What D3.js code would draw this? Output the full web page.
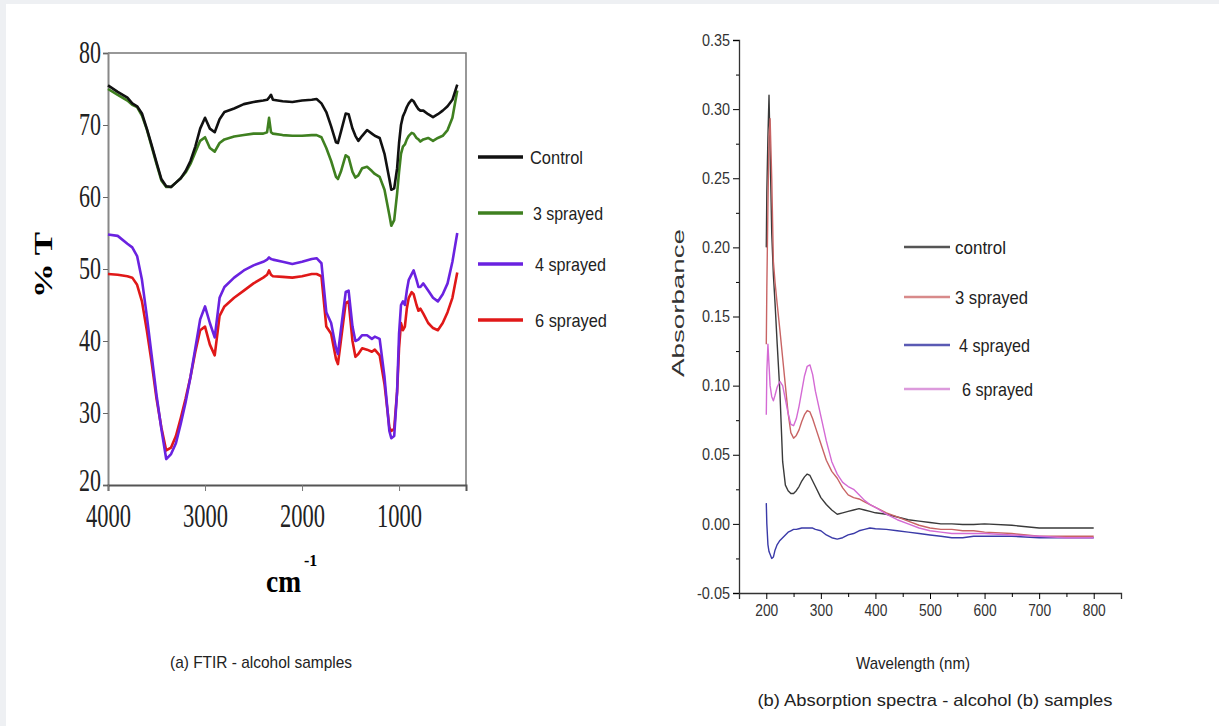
<!DOCTYPE html>
<html>
<head>
<meta charset="utf-8">
<script src="https://cdn.jsdelivr.net/npm/d3@7"></script>
<style>
  body { margin: 0; background: #eef0f3; }
  svg { display: block; }
</style>
</head>
<body>
<svg id="chart" width="1219" height="726"></svg>
<script>
// ---- FTIR data (%T vs wavenumber) ----
const ftirWn = [4000, 3900, 3800, 3750, 3700, 3650, 3600, 3550, 3500, 3450, 3400, 3350, 3300, 3250, 3200, 3150, 3100, 3050, 3000, 2950, 2900, 2850, 2800, 2700, 2600, 2500, 2400, 2360, 2340, 2320, 2300, 2200, 2100, 2000, 1900, 1850, 1800, 1750, 1700, 1650, 1630, 1600, 1550, 1520, 1480, 1450, 1420, 1380, 1330, 1280, 1250, 1200, 1150, 1100, 1080, 1050, 1020, 1000, 980, 960, 940, 920, 900, 870, 850, 820, 800, 780, 750, 700, 650, 600, 550, 500, 450, 400];
const ftirControl = [75.5, 74.6, 73.8, 73.0, 72.6, 71.6, 69.5, 67.2, 64.8, 62.5, 61.5, 61.4, 62.0, 62.6, 63.6, 65.0, 67.0, 69.5, 71.0, 69.5, 69.0, 70.8, 71.8, 72.3, 72.9, 73.2, 73.4, 73.5, 73.8, 74.2, 73.5, 73.3, 73.2, 73.4, 73.5, 73.6, 73.0, 71.8, 69.8, 67.6, 67.5, 69.0, 71.6, 71.5, 69.5, 68.5, 67.8, 68.5, 69.3, 68.8, 68.5, 68.2, 66.0, 62.5, 61.0, 61.2, 64.0, 67.5, 70.0, 71.2, 71.8, 72.5, 73.0, 73.5, 73.3, 72.6, 72.2, 72.0, 72.0, 71.5, 71.1, 71.5, 72.0, 72.6, 73.5, 75.6];
const ftir3 = [75.0, 74.2, 73.4, 72.8, 72.5, 71.3, 69.4, 67.0, 64.6, 62.3, 61.4, 61.4, 62.0, 62.6, 63.4, 64.6, 66.2, 67.8, 68.3, 66.8, 66.3, 67.5, 68.0, 68.4, 68.6, 68.8, 68.8, 69.0, 71.0, 69.0, 68.8, 68.6, 68.5, 68.5, 68.6, 68.6, 68.3, 66.8, 65.0, 62.8, 62.5, 63.5, 65.8, 65.5, 63.5, 62.7, 63.0, 64.0, 64.2, 63.6, 63.2, 62.8, 61.0, 57.5, 56.0, 56.8, 60.5, 63.5, 66.0, 67.0, 67.3, 68.0, 68.5, 68.9, 68.8, 68.2, 68.0, 67.7, 68.0, 68.2, 67.8, 68.2, 68.5, 69.3, 71.0, 74.8];
const ftir4 = [54.8, 54.6, 53.5, 53.0, 51.8, 48.5, 43.5, 38.0, 32.5, 27.8, 23.6, 24.3, 25.8, 28.5, 31.5, 35.0, 39.0, 43.0, 44.8, 42.5, 40.5, 46.0, 47.5, 48.8, 49.8, 50.5, 51.0, 51.3, 51.6, 51.4, 51.3, 51.0, 50.7, 51.0, 51.4, 51.5, 50.8, 44.0, 42.5, 39.0, 38.2, 41.5, 46.8, 47.0, 42.0, 40.0, 40.2, 40.8, 40.8, 40.3, 40.6, 40.3, 35.0, 27.5, 26.5, 26.8, 33.0, 41.0, 45.0, 45.5, 45.0, 47.0, 48.5, 49.3, 49.8, 48.5, 47.5, 47.5, 48.0, 47.0, 46.0, 45.5, 46.5, 48.0, 51.0, 55.0];
const ftir6 = [49.3, 49.2, 49.0, 48.8, 47.8, 45.5, 41.5, 37.0, 32.0, 28.0, 24.8, 25.2, 26.8, 29.3, 32.0, 35.0, 38.5, 41.5, 42.0, 39.5, 38.0, 43.5, 44.8, 46.0, 47.0, 48.0, 48.8, 49.2, 49.8, 49.2, 49.0, 48.9, 48.8, 49.0, 49.3, 49.3, 49.0, 42.0, 41.0, 37.5, 36.8, 40.0, 45.3, 45.5, 40.0, 37.8, 38.2, 39.0, 38.8, 38.5, 38.8, 38.0, 34.0, 28.0, 27.5, 27.8, 33.0, 39.0, 42.5, 41.5, 42.0, 44.5, 46.0, 46.8, 46.5, 45.0, 44.2, 44.5, 43.8, 42.5, 41.8, 41.5, 42.5, 44.0, 46.0, 49.5];
const ftirNames = ["Control", "3 sprayed", "4 sprayed", "6 sprayed"];
const ftirYTicks = [20, 30, 40, 50, 60, 70, 80];
const ftirXTicks = [4000, 3000, 2000, 1000];

// ---- UV-Vis data (absorbance vs wavelength) ----
const uvWl = [200, 201, 203, 205, 207, 210, 213, 216, 220, 225, 230, 235, 240, 245, 250, 255, 260, 265, 270, 275, 280, 285, 290, 300, 310, 320, 330, 340, 350, 360, 370, 380, 390, 400, 420, 440, 460, 480, 500, 520, 540, 560, 580, 600, 650, 700, 750, 800];
const uvControl = [0.20, 0.24, 0.28, 0.31, 0.27, 0.21, 0.18, 0.16, 0.13, 0.095, 0.045, 0.028, 0.024, 0.022, 0.022, 0.024, 0.027, 0.031, 0.034, 0.036, 0.035, 0.031, 0.027, 0.019, 0.014, 0.010, 0.007, 0.008, 0.009, 0.010, 0.011, 0.010, 0.009, 0.008, 0.007, 0.005, 0.003, 0.002, 0.001, 0.000, 0.000, -0.0005, -0.0005, 0.000, -0.001, -0.003, -0.003, -0.003];
const uv3 = [0.13, 0.17, 0.23, 0.28, 0.293, 0.25, 0.19, 0.175, 0.159, 0.14, 0.12, 0.10, 0.08, 0.066, 0.062, 0.064, 0.068, 0.074, 0.079, 0.082, 0.081, 0.076, 0.070, 0.058, 0.046, 0.038, 0.033, 0.026, 0.021, 0.019, 0.018, 0.016, 0.014, 0.012, 0.008, 0.005, 0.002, -0.001, -0.003, -0.004, -0.004, -0.005, -0.005, -0.006, -0.007, -0.009, -0.009, -0.009];
const uv4 = [0.015, 0.0, -0.015, -0.02, -0.022, -0.025, -0.024, -0.019, -0.015, -0.012, -0.010, -0.008, -0.006, -0.005, -0.004, -0.004, -0.0035, -0.003, -0.003, -0.003, -0.003, -0.003, -0.004, -0.005, -0.008, -0.010, -0.011, -0.010, -0.008, -0.007, -0.005, -0.004, -0.003, -0.0035, -0.004, -0.005, -0.006, -0.007, -0.008, -0.009, -0.010, -0.010, -0.009, -0.009, -0.009, -0.010, -0.010, -0.010];
const uv6 = [0.079, 0.11, 0.13, 0.115, 0.10, 0.092, 0.089, 0.093, 0.099, 0.103, 0.100, 0.090, 0.080, 0.072, 0.071, 0.076, 0.085, 0.096, 0.107, 0.114, 0.115, 0.108, 0.096, 0.078, 0.060, 0.045, 0.036, 0.030, 0.027, 0.025, 0.021, 0.017, 0.014, 0.012, 0.007, 0.003, 0.000, -0.003, -0.005, -0.006, -0.007, -0.007, -0.007, -0.007, -0.008, -0.009, -0.010, -0.010];
const uvNames = ["control", "3 sprayed", "4 sprayed", "6 sprayed"];
const uvYTicks = [-0.05, 0, 0.05, 0.10, 0.15, 0.20, 0.25, 0.30, 0.35];
const uvYMinor = [-0.025, 0.025, 0.075, 0.125, 0.175, 0.225, 0.275, 0.325];
const uvXTicks = [200, 300, 400, 500, 600, 700, 800];
const uvXMinor = [250, 350, 450, 550, 650, 750];

const svg = d3.select("#chart");

// white page with thin grey frame top/left
svg.append("rect").attr("x", 6).attr("y", 4).attr("width", 1213).attr("height", 722).attr("fill", "#fff");

const sans = "'Liberation Sans', Arial, sans-serif";
const serif = "'Liberation Serif', serif";

// squeeze text to the width it has in the picture
function fit(sel, w) {
  sel.attr("textLength", w).attr("lengthAdjust", "spacingAndGlyphs");
}

// ================= (a) FTIR =================
const x1 = d3.scaleLinear().domain([4000, 310]).range([108, 466]);
const y1 = d3.scaleLinear().domain([20, 80]).range([485, 53]);

// box top/right
svg.append("path")
  .attr("d", `M${x1.range()[0]},${y1(80)}H${x1.range()[1]}V${y1(20)}`)
  .attr("fill", "none").attr("stroke", "#777").attr("stroke-width", 1.5);

const ax1 = svg.append("g")
  .attr("transform", `translate(${x1.range()[0]},0)`)
  .call(d3.axisLeft(y1).tickValues(ftirYTicks).tickSize(5).tickPadding(2));
ax1.select(".domain").attr("stroke", "#888").attr("stroke-width", 2);
ax1.selectAll(".tick line").attr("stroke", "#666");
ax1.selectAll("text")
  .attr("font-family", serif).attr("font-size", 31).attr("fill", "#222")
  .attr("dy", d => d === 20 ? "0.18em" : "0.32em")   // the bottom label sits a little high
  .call(fit, 22);

const bx1 = svg.append("g")
  .attr("transform", `translate(0,${y1(20)})`)
  .call(d3.axisBottom(x1).tickValues(ftirXTicks).tickFormat(d3.format("d")).tickSize(6).tickPadding(13));
bx1.select(".domain").attr("stroke", "#555").attr("stroke-width", 2);
bx1.selectAll(".tick line").attr("stroke", "#777");
bx1.selectAll("text")
  .attr("font-family", serif).attr("font-size", 33).attr("fill", "#222")
  .call(fit, 45);

const ftirSeries = [ftirControl, ftir3, ftir4, ftir6];
const ftirColors = ["#111111", "#3f8020", "#6a22e0", "#e01818"];
const line1 = d3.line().x((d, i) => x1(ftirWn[i])).y(d => y1(d));

// draw back to front so black sits on top of green, purple on red
[3, 2, 1, 0].forEach(k => {
  svg.append("path")
    .datum(ftirSeries[k])
    .attr("d", line1)
    .attr("fill", "none")
    .attr("stroke", ftirColors[k])
    .attr("stroke-width", 2.6)
    .attr("stroke-linejoin", "round");
});

svg.append("text")
  .attr("transform", "translate(52,265) rotate(-90)")
  .attr("text-anchor", "middle")
  .attr("font-family", serif).attr("font-weight", "bold").attr("font-size", 26)
  .call(fit, 66)
  .text("% T");

svg.append("text").attr("x", 266).attr("y", 592)
  .attr("font-family", serif).attr("font-weight", "bold").attr("font-size", 32)
  .call(fit, 35)
  .text("cm");
svg.append("text").attr("x", 304).attr("y", 566)
  .attr("font-family", serif).attr("font-weight", "bold").attr("font-size", 16)
  .text("-1");

// legend
const leg1Y = [157, 213, 264, 320];
const leg1TextX = [530, 533, 535, 535];
const leg1W = [53, 70, 71, 72];
ftirNames.forEach((n, i) => {
  svg.append("line").attr("x1", 478).attr("x2", 523).attr("y1", leg1Y[i]).attr("y2", leg1Y[i])
    .attr("stroke", ftirColors[i]).attr("stroke-width", 3.5);
  svg.append("text").attr("x", leg1TextX[i]).attr("y", leg1Y[i] + 7)
    .attr("font-family", sans).attr("font-size", 19).attr("fill", "#222")
    .call(fit, leg1W[i])
    .text(n);
});

svg.append("text").attr("x", 261).attr("y", 668).attr("text-anchor", "middle")
  .attr("font-family", sans).attr("font-size", 17).attr("fill", "#222")
  .call(fit, 182)
  .text("(a) FTIR - alcohol samples");

// ================= (b) UV-Vis =================
const x2 = d3.scaleLinear().domain([150, 850]).range([739, 1121]);
const y2 = d3.scaleLinear().domain([-0.05, 0.35]).range([593, 40]);

const ay2 = svg.append("g")
  .attr("transform", `translate(${x2.range()[0]},0)`)
  .call(d3.axisLeft(y2).tickValues(uvYTicks).tickSize(6).tickPadding(3).tickFormat(d3.format(".2f")));
svg.append("g")
  .attr("transform", `translate(${x2.range()[0]},0)`)
  .call(d3.axisLeft(y2).tickValues(uvYMinor).tickSize(3).tickFormat(""))
  .select(".domain").remove();
ay2.selectAll("text")
  .attr("font-family", sans).attr("font-size", 16).attr("fill", "#333")
  .text(d => d < 0 ? "-0.05" : d3.format(".2f")(d))
  .each(function (d) { d3.select(this).call(fit, d < 0 ? 33 : 28); });

const bx2 = svg.append("g")
  .attr("transform", `translate(0,${y2(-0.05)})`)
  .call(d3.axisBottom(x2).tickValues(uvXTicks).tickSize(6).tickPadding(6));
svg.append("g")
  .attr("transform", `translate(0,${y2(-0.05)})`)
  .call(d3.axisBottom(x2).tickValues(uvXMinor).tickSize(4).tickFormat(""))
  .select(".domain").remove();
bx2.selectAll("text")
  .attr("font-family", sans).attr("font-size", 16).attr("fill", "#333")
  .call(fit, 23);
[ay2, bx2].forEach(g => g.select(".domain").attr("stroke", "#333").attr("stroke-width", 1.3));

const uvSeries = [uvControl, uv3, uv4, uv6];
const uvColors = ["#3a3a3a", "#c86464", "#3a3aa8", "#d46ad4"];
const uvLegColors = ["#555555", "#d88a8a", "#5a5ab4", "#dc9adc"];
const line2 = d3.line().x((d, i) => x2(uvWl[i])).y(d => y2(d));

[2, 0, 1, 3].forEach(k => {
  svg.append("path")
    .datum(uvSeries[k])
    .attr("d", line2)
    .attr("fill", "none")
    .attr("stroke", uvColors[k])
    .attr("stroke-width", 1.4)
    .attr("stroke-linejoin", "round");
});

svg.append("text")
  .attr("transform", "translate(684,303) rotate(-90)")
  .attr("text-anchor", "middle")
  .attr("font-family", sans).attr("font-size", 17).attr("fill", "#333")
  .call(fit, 148)
  .text("Absorbance");

const leg2Y = [247, 297, 345, 389];
const leg2TextX = [955, 955, 959, 962];
const leg2W = [51, 73, 71, 71];
uvNames.forEach((n, i) => {
  svg.append("line").attr("x1", 904).attr("x2", 950).attr("y1", leg2Y[i]).attr("y2", leg2Y[i])
    .attr("stroke", uvLegColors[i]).attr("stroke-width", 2.5);
  svg.append("text").attr("x", leg2TextX[i]).attr("y", leg2Y[i] + 7)
    .attr("font-family", sans).attr("font-size", 19).attr("fill", "#222")
    .call(fit, leg2W[i])
    .text(n);
});

svg.append("text").attr("x", 913).attr("y", 669).attr("text-anchor", "middle")
  .attr("font-family", sans).attr("font-size", 17).attr("fill", "#222")
  .call(fit, 114)
  .text("Wavelength (nm)");

svg.append("text").attr("x", 935).attr("y", 706).attr("text-anchor", "middle")
  .attr("font-family", sans).attr("font-size", 17).attr("fill", "#222")
  .call(fit, 355)
  .text("(b) Absorption spectra - alcohol (b) samples");
</script>
</body>
</html>
